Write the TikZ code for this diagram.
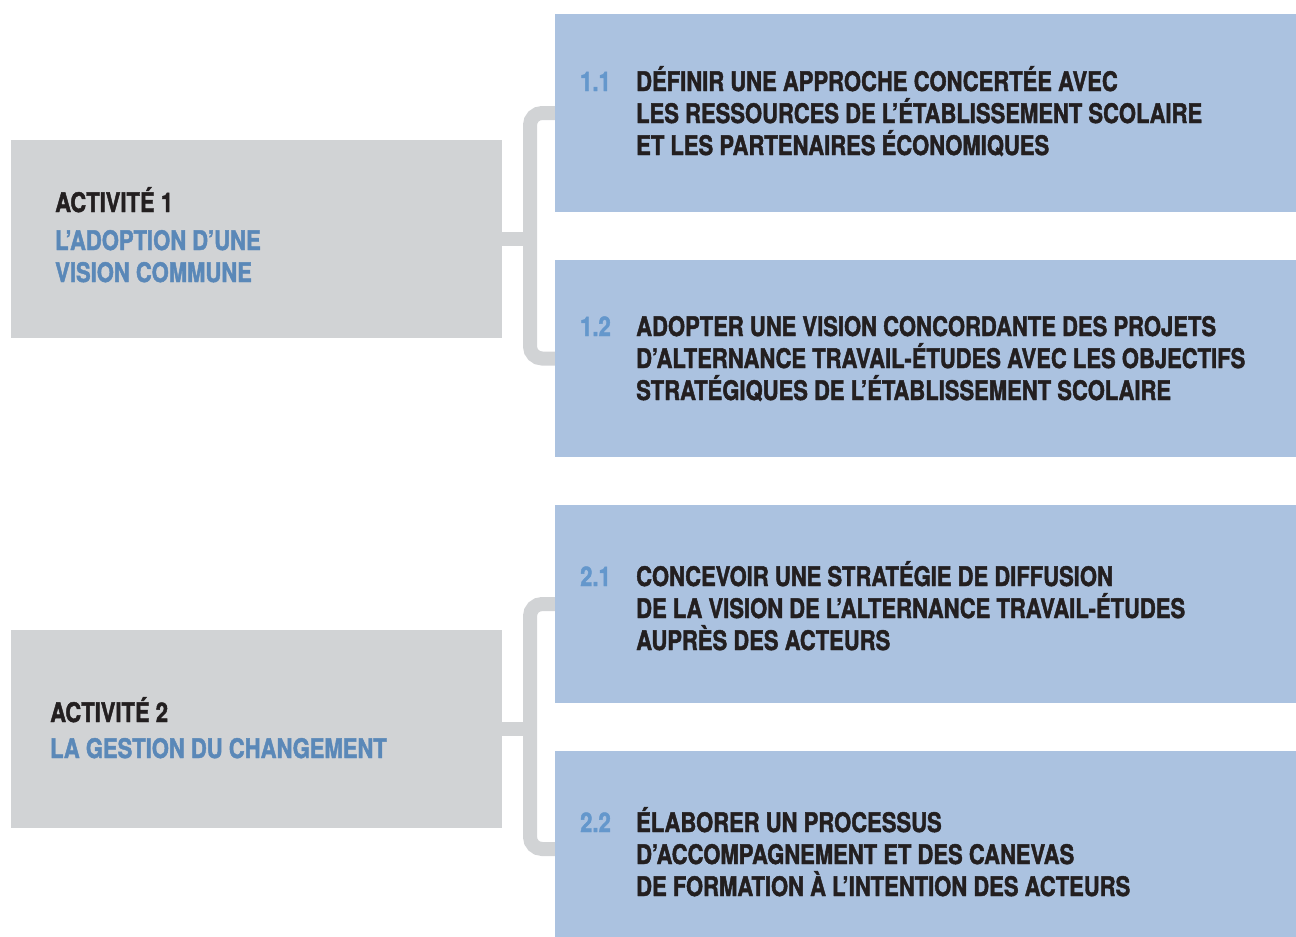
\documentclass[tikz,border=0pt]{standalone}
\usepackage{fontspec}
\newfontfamily\condfont{TeX Gyre Heros}[FakeStretch=0.815, FakeBold=1.6]
\usetikzlibrary{calc}
\definecolor{boxgray}{HTML}{D1D3D5}
\definecolor{boxblue}{HTML}{ABC2E0}
\definecolor{numblue}{HTML}{6497CC}
\definecolor{actblue}{HTML}{5A88B8}
\definecolor{ink}{HTML}{231F20}
\tikzset{
  graybox/.style={fill=boxgray, draw=none, inner sep=0pt},
  bluebox/.style={fill=boxblue, draw=none, inner sep=0pt},
  conn/.style={draw=boxgray, line width=14pt, rounded corners=12pt},
  txt/.style={anchor=base west, inner sep=0pt, text=ink, font=\condfont\bfseries\fontsize{27}{32}\selectfont},
  num/.style={txt, text=numblue},
  act/.style={txt, text=actblue},
}
\begin{document}
\begin{tikzpicture}[x=1pt,y=-1pt]
\useasboundingbox (0,0) rectangle (1296,937);
% boxes
\node[graybox, minimum width=491pt, minimum height=198pt] (g1) at (256.5,239) {};
\node[graybox, minimum width=491pt, minimum height=198pt] (g2) at (256.5,729) {};
\node[bluebox, minimum width=741pt, minimum height=198pt] (b11) at (925.5,113) {};
\node[bluebox, minimum width=741pt, minimum height=197pt] (b12) at (925.5,358.5) {};
\node[bluebox, minimum width=741pt, minimum height=198pt] (b21) at (925.5,604) {};
\node[bluebox, minimum width=741pt, minimum height=196pt] (b22) at (925.5,849) {};
% connectors
\coordinate (j1) at (530,239);
\coordinate (j2) at (530,729);
\draw[conn] (b11.west) -| (j1) |- (b12.west);
\draw[conn, rounded corners=0pt] (g1.east) -- (j1);
\draw[conn] (b21.west) -| (j2) |- (b22.west);
\draw[conn, rounded corners=0pt] (g2.east) -- (j2);
% activity texts
\node[txt] (a1) at (55,212) {ACTIVITÉ 1};
\node[act] (a1t) at (55,250) {\vtop{\hbox{L’ADOPTION D’UNE}\hbox{VISION COMMUNE}}};
\node[txt] (a2) at (50,722) {ACTIVITÉ 2};
\node[act] (a2t) at (50,758) {LA GESTION DU CHANGEMENT};
% task texts
\node[num] (n11) at (580,91) {1.1};
\node[txt] (t11) at (636,91) {\vtop{\hbox{DÉFINIR UNE APPROCHE CONCERTÉE AVEC}\hbox{LES RESSOURCES DE L’ÉTABLISSEMENT SCOLAIRE}\hbox{ET LES PARTENAIRES ÉCONOMIQUES}}};
\node[num] (n12) at (580,336) {1.2};
\node[txt] (t12) at (636,336) {\vtop{\hbox{ADOPTER UNE VISION CONCORDANTE DES PROJETS}\hbox{D’ALTERNANCE TRAVAIL-ÉTUDES AVEC LES OBJECTIFS}\hbox{STRATÉGIQUES DE L’ÉTABLISSEMENT SCOLAIRE}}};
\node[num] (n21) at (580,586) {2.1};
\node[txt] (t21) at (636,586) {\vtop{\hbox{CONCEVOIR UNE STRATÉGIE DE DIFFUSION}\hbox{DE LA VISION DE L’ALTERNANCE TRAVAIL-ÉTUDES}\hbox{AUPRÈS DES ACTEURS}}};
\node[num] (n22) at (580,832) {2.2};
\node[txt] (t22) at (636,832) {\vtop{\hbox{ÉLABORER UN PROCESSUS}\hbox{D’ACCOMPAGNEMENT ET DES CANEVAS}\hbox{DE FORMATION À L’INTENTION DES ACTEURS}}};
\end{tikzpicture}
\end{document}
